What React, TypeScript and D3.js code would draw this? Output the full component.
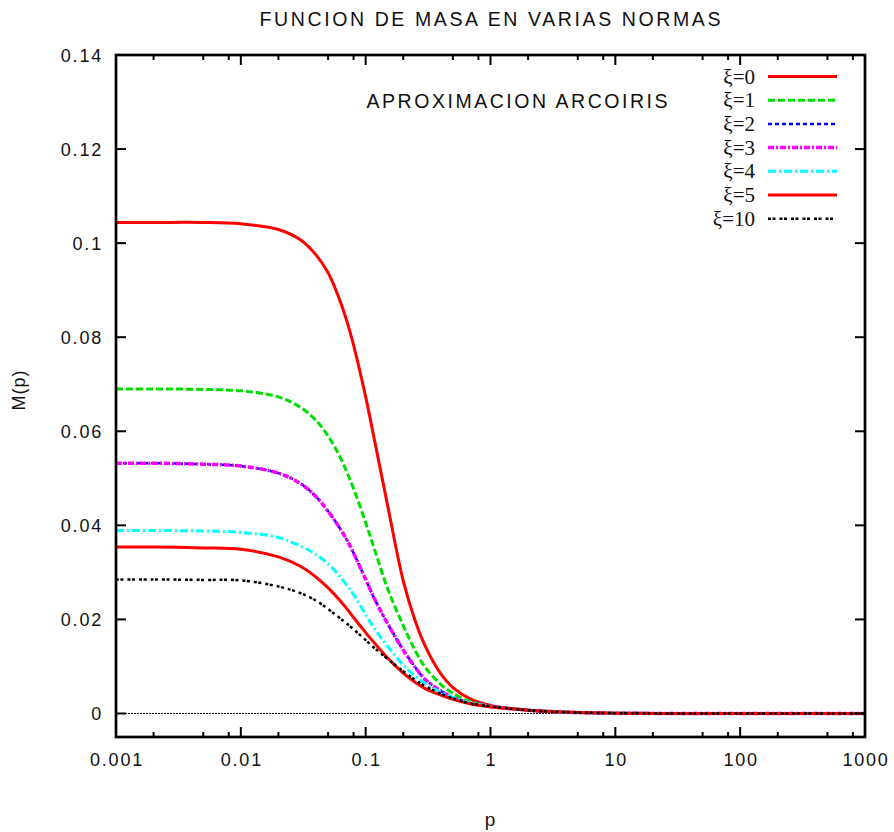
import React from "react";
import * as d3 from "d3";

const P = [0.001, 0.002, 0.005, 0.01, 0.02, 0.03, 0.04, 0.05, 0.06, 0.07, 0.08, 0.1, 0.12, 0.15, 0.2, 0.25, 0.3, 0.4, 0.5, 0.7, 1, 1.5, 2, 3, 5, 10, 30, 100, 1000];

const XI0 = [0.1044, 0.1044, 0.1044, 0.1041, 0.1029, 0.1007, 0.0975, 0.0937, 0.0889, 0.0838, 0.0783, 0.0673, 0.057, 0.0442, 0.0282, 0.0196, 0.0143, 0.0084, 0.0055, 0.003, 0.0017, 0.001, 0.0007, 0.0004, 0.0002, 0.00006, 0.00001, 0, 0];
const XI1 = [0.069, 0.069, 0.0689, 0.0686, 0.0673, 0.0651, 0.0623, 0.059, 0.0554, 0.0516, 0.0478, 0.0406, 0.0342, 0.0265, 0.0187, 0.0133, 0.0098, 0.0062, 0.0043, 0.0025, 0.0015, 0.001, 0.0007, 0.0004, 0.0002, 0.00006, 0.00001, 0, 0];
const XI2 = [0.0532, 0.0532, 0.053, 0.0526, 0.0511, 0.0489, 0.0461, 0.043, 0.04, 0.0371, 0.0341, 0.0285, 0.0239, 0.0191, 0.0135, 0.0098, 0.0072, 0.0048, 0.0034, 0.0022, 0.0015, 0.001, 0.0007, 0.0004, 0.0002, 0.00006, 0.00001, 0, 0];
const XI3 = [0.0532, 0.0532, 0.053, 0.0526, 0.0511, 0.0489, 0.0461, 0.043, 0.04, 0.0371, 0.0341, 0.0285, 0.0239, 0.0191, 0.0135, 0.0098, 0.0072, 0.0048, 0.0034, 0.0022, 0.0015, 0.001, 0.0007, 0.0004, 0.0002, 0.00006, 0.00001, 0, 0];
const XI4 = [0.0389, 0.0389, 0.0388, 0.0385, 0.0374, 0.0356, 0.0338, 0.0318, 0.0296, 0.0274, 0.0253, 0.021, 0.0177, 0.0143, 0.0103, 0.0079, 0.0064, 0.0045, 0.0034, 0.0022, 0.0015, 0.001, 0.0007, 0.0004, 0.0002, 0.00006, 0.00001, 0, 0];
const XI5 = [0.0354, 0.0354, 0.0352, 0.0349, 0.0333, 0.0313, 0.029, 0.0267, 0.0245, 0.0224, 0.0204, 0.0172, 0.0147, 0.0118, 0.0086, 0.0066, 0.0053, 0.0039, 0.003, 0.002, 0.0014, 0.001, 0.0007, 0.0004, 0.0002, 0.00006, 0.00001, 0, 0];
const XI10 = [0.0285, 0.0285, 0.0284, 0.0283, 0.027, 0.0256, 0.024, 0.0222, 0.0206, 0.0192, 0.0179, 0.0156, 0.0137, 0.0116, 0.009, 0.0071, 0.0058, 0.0042, 0.0032, 0.0021, 0.0015, 0.001, 0.0007, 0.0004, 0.0002, 0.00006, 0.00001, 0, 0];

const SERIES_LABELS = ["ξ=0", "ξ=1", "ξ=2", "ξ=3", "ξ=4", "ξ=5", "ξ=10"];
const SERIES_VALUES = [XI0, XI1, XI2, XI3, XI4, XI5, XI10];
const SERIES_COLORS = ["#ff0000", "#00dd00", "#0000ff", "#ff00ff", "#00ffff", "#ff0000", "#000000"];
const SERIES_DASH = ["", "7,3", "4,3", "6,2,2,2", "8,3,2,3", "", "3,1.5,3,4"];
const SERIES_WIDTH = [3, 3, 2.5, 3.5, 3, 3, 2.5];

const X_TICKS = [0.001, 0.01, 0.1, 1, 10, 100, 1000];
const X_TICK_LABELS = ["0.001", "0.01", "0.1", "1", "10", "100", "1000"];
const Y_TICKS = [0, 0.02, 0.04, 0.06, 0.08, 0.1, 0.12, 0.14];
const Y_TICK_LABELS = ["0", "0.02", "0.04", "0.06", "0.08", "0.1", "0.12", "0.14"];

const W = 894, H = 832;
const L = 116, R = 865, T = 55, B = 737;

export default function App() {
  const x = d3.scaleLog().domain([0.001, 1000]).range([L, R]);
  const y = d3.scaleLinear().domain([-0.005, 0.14]).range([B, T]);
  const line = d3.line<number>()
    .x((_, i) => x(P[i]))
    .y((d) => y(d))
    .curve(d3.curveCatmullRom.alpha(0.5));

  const minor: number[] = [];
  for (let e = -3; e < 3; e++) {
    for (const m of [2, 5, 8]) minor.push(m * Math.pow(10, e));
  }
  const sans = "'Liberation Sans', Arial, sans-serif";
  const serif = "'Liberation Serif', 'Times New Roman', serif";

  return (
    <svg width={W} height={H} style={{ position: "absolute", left: 0, top: 0, background: "#fff" }}>
      <rect x={0} y={0} width={W} height={H} fill="#fff" />
      <defs>
        <clipPath id="plotclip">
          <rect x={L} y={T} width={R - L} height={B - T} />
        </clipPath>
      </defs>
      {/* zero axis */}
      <line x1={L} x2={R} y1={y(0)} y2={y(0)} stroke="#000" strokeWidth={1} strokeDasharray="2,1" />
      {/* curves */}
      <g clipPath="url(#plotclip)">
        {SERIES_VALUES.map((vals, i) => (
          <path key={i} d={line(vals) || ""} fill="none" stroke={SERIES_COLORS[i]}
            strokeWidth={SERIES_WIDTH[i]} strokeDasharray={SERIES_DASH[i] || undefined} />
        ))}
      </g>
      {/* ticks */}
      <g stroke="#000" strokeWidth={2}>
        {X_TICKS.map((t, i) => (
          <g key={"xt" + i}>
            <line x1={x(t)} x2={x(t)} y1={B} y2={B - 10} />
            <line x1={x(t)} x2={x(t)} y1={T} y2={T + 10} />
          </g>
        ))}
        {minor.map((t, i) => (
          <g key={"xm" + i}>
            <line x1={x(t)} x2={x(t)} y1={B} y2={B - 5} />
            <line x1={x(t)} x2={x(t)} y1={T} y2={T + 5} />
          </g>
        ))}
        {Y_TICKS.map((t, i) => (
          <g key={"yt" + i}>
            <line x1={L} x2={L + 10} y1={y(t)} y2={y(t)} />
            <line x1={R} x2={R - 10} y1={y(t)} y2={y(t)} />
          </g>
        ))}
      </g>
      {/* border */}
      <rect x={L} y={T} width={R - L} height={B - T} fill="none" stroke="#000" strokeWidth={2.7} />
      {/* tick labels */}
      <g fontFamily={sans} fontSize={18} fill="#111" style={{ letterSpacing: "1.8px" }}>
        {X_TICKS.map((t, i) => (
          <text key={"xl" + i} x={x(t) + 1} y={766} textAnchor="middle">{X_TICK_LABELS[i]}</text>
        ))}
        {Y_TICKS.map((t, i) => (
          <text key={"yl" + i} x={103} y={y(t) + 6.5} textAnchor="end">{Y_TICK_LABELS[i]}</text>
        ))}
      </g>
      {/* titles */}
      <text x={490} y={26} textAnchor="middle" fontFamily={sans} fontSize={19.5} fill="#111"
        textLength={461} lengthAdjust="spacing">FUNCION DE MASA EN VARIAS NORMAS</text>
      <text x={517} y={108} textAnchor="middle" fontFamily={sans} fontSize={19.5} fill="#111"
        textLength={301} lengthAdjust="spacing">APROXIMACION ARCOIRIS</text>
      <text x={490} y={826} textAnchor="middle" fontFamily={sans} fontSize={19} fill="#111">p</text>
      <text transform="translate(25,390) rotate(-90)" textAnchor="middle" fontFamily={sans} fontSize={18} fill="#111"
        style={{ letterSpacing: "1px" }}>M(p)</text>
      {/* legend */}
      <g>
        {SERIES_LABELS.map((lab, i) => {
          const ly = 76.5 + i * 23.7;
          return (
            <g key={"lg" + i}>
              <text x={755} y={ly + 7} textAnchor="end" fontFamily={serif} fontSize={21} fill="#111">{lab}</text>
              <line x1={768} x2={837} y1={ly} y2={ly} stroke={SERIES_COLORS[i]} strokeWidth={SERIES_WIDTH[i]}
                strokeDasharray={SERIES_DASH[i] || undefined} />
            </g>
          );
        })}
      </g>
    </svg>
  );
}
